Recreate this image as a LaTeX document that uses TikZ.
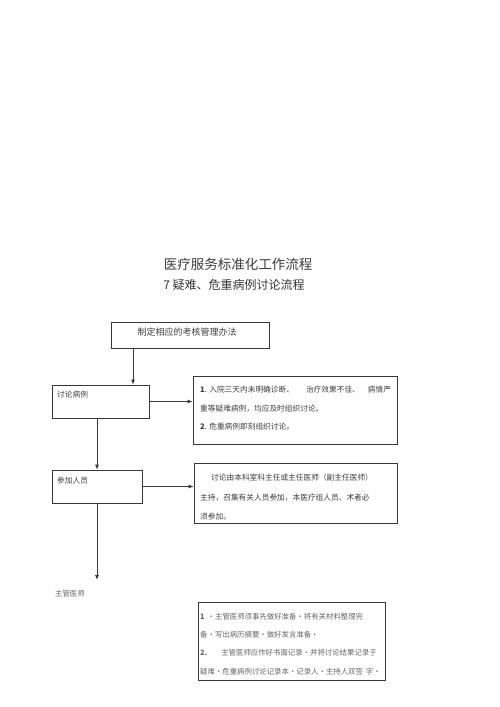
\documentclass[tikz,border=0pt]{standalone}
\usepackage{fontspec}
\setmainfont{Noto Sans CJK SC}
\usetikzlibrary{arrows.meta}
\definecolor{ink}{RGB}{55,55,55}
\definecolor{txt}{RGB}{60,60,60}
\definecolor{lite}{RGB}{100,100,100}
\tikzset{
  box/.style={draw=ink, line width=0.8pt, rectangle, inner sep=0pt},
  arr/.style={draw=ink, line width=0.8pt, -{Latex[length=5pt,width=4pt]}},
  tl/.style={anchor=west, inner sep=0pt, text=txt, font=\fontsize{7.7}{9}\selectfont},
  tg/.style={anchor=west, inner sep=0pt, text=lite, font=\fontsize{7.4}{9}\selectfont},
}
\begin{document}
\begin{tikzpicture}[x=1pt,y=-1pt]
\useasboundingbox (0,0) rectangle (500,707);
% titles
\node[inner sep=0pt, text=txt, font=\fontsize{13.5}{15}\selectfont] (title) at (238,264) {医疗服务标准化工作流程};
\node[inner sep=0pt, text=black!80, font=\fontsize{12}{14}\selectfont] (sub) at (234,285) {7 疑难、危重病例讨论流程};
% boxes
\node[box, minimum width=158pt, minimum height=26pt] (b1) at (190,335) {};
\node[inner sep=0pt, text=txt, font=\fontsize{9}{11}\selectfont] (t1) at (187,332) {制定相应的考核管理办法};
\node[box, minimum width=97pt, minimum height=33pt] (b2) at (100.5,401.5) {};
\node[tl] (t2) at (57,395) {讨论病例};
\node[box, minimum width=204pt, minimum height=68pt] (b3) at (295,410) {};
\node[tl] (t3a) at (200,390) {\textbf{1}. 入院三天内未明确诊断、\hspace{12pt}治疗效果不佳、\hspace{8pt}病情严};
\node[tl] (t3b) at (200,408.5) {重等疑难病例，均应及时组织讨论。};
\node[tl] (t3c) at (200,427) {\textbf{2}. 危重病例即刻组织讨论。};
\node[box, minimum width=90pt, minimum height=33pt] (b4) at (97,486.5) {};
\node[tl] (t4) at (57,481) {参加人员};
\node[box, minimum width=203pt, minimum height=60pt] (b5) at (295.5,493) {};
\node[tl] (t5a) at (211,478) {讨论由本科室科主任或主任医师（副主任医师）};
\node[tl] (t5b) at (200,498) {主持，召集有关人员参加，本医疗组人员、术者必};
\node[tl] (t5c) at (200,517) {须参加。};
\node[tg] (t6) at (55,594) {主管医师};
\node[box, line width=0.7pt, minimum width=187pt, minimum height=78pt] (b6) at (291.5,641) {};
\node[tg] (t6a) at (200,617) {\textbf{1}\hspace{3pt}・主管医师须事先做好准备・将有关材料整理完};
\node[tg] (t6b) at (200,635) {备・写出病历摘要・做好发言准备・};
\node[tg] (t6c) at (200,653) {\textbf{2.}\hspace{14pt}主管医师应作好书面记录・并将讨论结果记录于};
\node[tg] (t6d) at (200,672) {疑难・危重病例讨论记录本・记录人・主持人双签\hspace{3pt}字・};
% connectors
\coordinate (cx) at (133,0);
\coordinate (end) at (97,580);
\draw[arr] (b1.south -| cx) -- (b2.north -| cx);
\draw[arr] (b2.east) -- (b2.east -| b3.west);
\draw[arr] (b2.south -| b4.north) -- (b4.north);
\draw[arr] (b4.east) -- (b4.east -| b5.west);
\draw[arr] (b4.south) -- (end);
\end{tikzpicture}
\end{document}
